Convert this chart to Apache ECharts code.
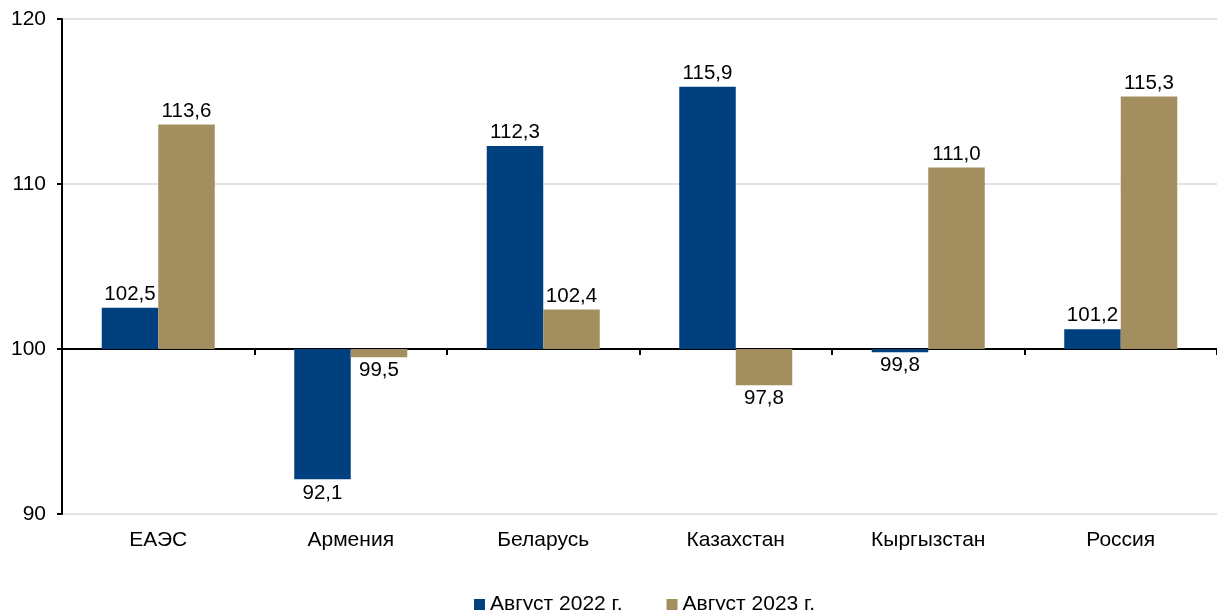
<!DOCTYPE html>
<html>
<head>
<meta charset="utf-8">
<script src="https://cdn.jsdelivr.net/npm/echarts@6/dist/echarts.min.js"></script>
<style>html,body{margin:0;padding:0;background:#fff}#c{width:1217px;height:610px}</style>
</head>
<body>
<div id="c"></div>
<script>
const categories = ['ЕАЭС', 'Армения', 'Беларусь', 'Казахстан', 'Кыргызстан', 'Россия'];
const aug2022 = [102.5, 92.1, 112.3, 115.9, 99.8, 101.2];
const aug2023 = [113.6, 99.5, 102.4, 97.8, 111.0, 115.3];
const seriesNames = ['Август 2022 г.', 'Август 2023 г.'];
const baseline = 100;
const yTicks = [90, 100, 110, 120];

const FONT = 'Liberation Sans, Arial, sans-serif';
const FS = 20.5;
const fmt = v => v.toFixed(1).replace('.', ',');

function mkData(arr) {
  return arr.map(v => ({
    value: +(v - baseline).toFixed(3),
    orig: v,
    label: { position: v >= baseline ? 'top' : 'bottom' }
  }));
}

function mkSeries(name, arr, color) {
  return {
    name: name,
    type: 'bar',
    xAxisIndex: 0,
    barWidth: 56.5,
    barGap: '0%',
    itemStyle: { color: color },
    label: {
      show: true,
      color: '#000',
      fontFamily: FONT,
      fontSize: FS,
      distance: 3,
      formatter: p => fmt(p.data.orig)
    },
    data: mkData(arr)
  };
}

const chart = echarts.init(document.getElementById('c'), null, { renderer: 'canvas' });
chart.setOption({
  animation: false,
  backgroundColor: '#fff',
  grid: { left: 62, right: 0, top: 19, bottom: 96, containLabel: false },
  legend: {
    data: seriesNames,
    left: 469,
    top: 589,
    itemWidth: 11,
    itemHeight: 11,
    itemGap: 44,
    icon: 'rect',
    textStyle: { fontFamily: FONT, fontSize: 21, color: '#000' }
  },
  xAxis: [
    {
      type: 'category',
      data: categories,
      position: 'bottom',
      axisLine: { show: false, onZero: false },
      axisTick: { show: false },
      axisLabel: { fontFamily: FONT, fontSize: 21, color: '#000', margin: 16 }
    },
    {
      type: 'category',
      data: categories,
      position: 'bottom',
      axisLine: { show: true, onZero: true, lineStyle: { color: '#000', width: 2 } },
      axisTick: { show: true, length: 6, lineStyle: { color: '#000', width: 2 } },
      axisLabel: { show: false }
    }
  ],
  yAxis: {
    type: 'value',
    min: yTicks[0] - baseline,
    max: yTicks[yTicks.length - 1] - baseline,
    interval: 10,
    axisLine: { show: true, lineStyle: { color: '#000', width: 2 } },
    axisTick: { show: true, length: 5, lineStyle: { color: '#000', width: 2 } },
    axisLabel: {
      fontFamily: FONT, fontSize: 21, color: '#000', margin: 16,
      formatter: v => String(v + baseline)
    },
    splitLine: { show: true, lineStyle: { color: '#d9d9d9', width: 1.5 } }
  },
  series: [
    mkSeries(seriesNames[0], aug2022, '#00407f'),
    mkSeries(seriesNames[1], aug2023, '#a38e5f')
  ]
});
</script>
</body>
</html>
